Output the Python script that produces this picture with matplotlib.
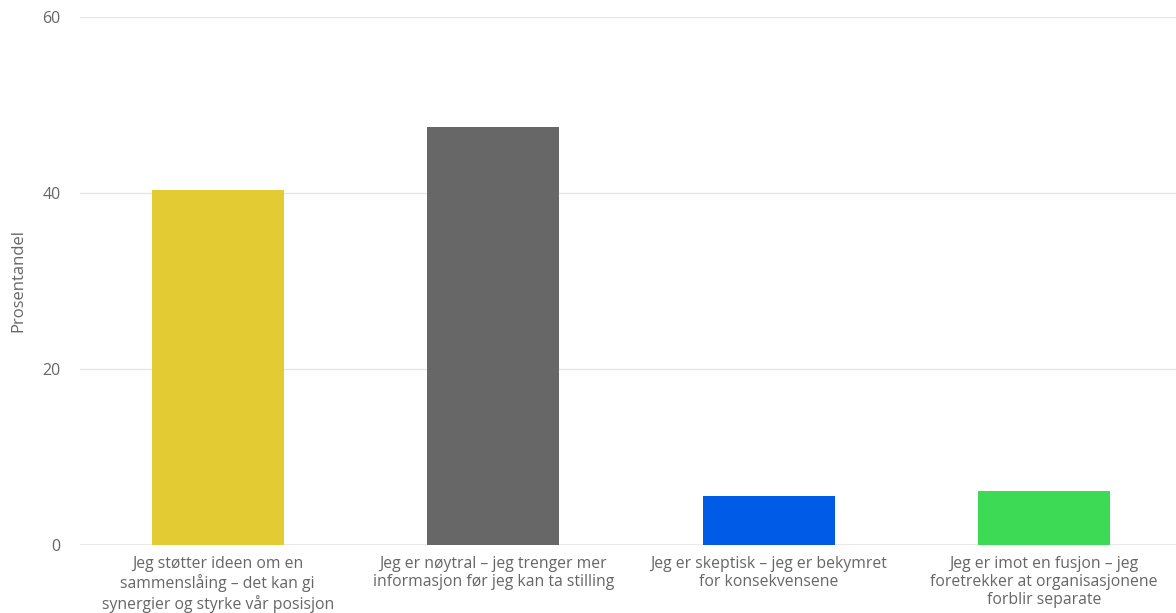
import matplotlib
matplotlib.use("Agg")
import matplotlib.pyplot as plt

categories = [
    "Jeg støtter ideen om en\nsammenslåing – det kan gi\nsynergier og styrke vår posisjon",
    "Jeg er nøytral – jeg trenger mer\ninformasjon før jeg kan ta stilling",
    "Jeg er skeptisk – jeg er bekymret\nfor konsekvensene",
    "Jeg er imot en fusjon – jeg\nforetrekker at organisasjonene\nforblir separate",
]
values = [40.3, 47.5, 5.6, 6.1]
colors = ["#E3CC33", "#676767", "#005BE6", "#3DDB55"]
yticks = [0, 20, 40, 60]
ylabel = "Prosentandel"

plt.rcParams['font.family'] = ['Open Sans', 'DejaVu Sans']
W, H = 1176, 613
fig = plt.figure(figsize=(W / 100, H / 100), dpi=100)
left, right, top, bottom = 80, 1182, 17, 545
ax = fig.add_axes([left / W, 1 - bottom / H, (right - left) / W, (bottom - top) / H])

x = range(len(categories))
ax.bar(x, values, width=0.48, color=colors, zorder=2)
ax.set_xlim(-0.5, len(categories) - 0.5)
ax.set_ylim(0, 60)
ax.set_yticks(yticks)
ax.yaxis.grid(True, color="#e6e6e6", linewidth=1, zorder=0)
for s in ax.spines.values():
    s.set_visible(False)
ax.axhline(0, color="#e6e6e6", linewidth=1.2, zorder=1)
ax.tick_params(axis="y", length=0, pad=14, labelsize=11.5, labelcolor="#666666")
ax.tick_params(axis="x", length=0, pad=8, labelsize=11.3, labelcolor="#666666")
ax.set_xticks(list(x))
ax.set_xticklabels(categories, linespacing=1.17)
ax.set_ylabel(ylabel, fontsize=12, color="#666666")
ax.yaxis.set_label_coords(-(80 - 26) / (right - left), 0.5)

fig.savefig("out.png", dpi=100)
